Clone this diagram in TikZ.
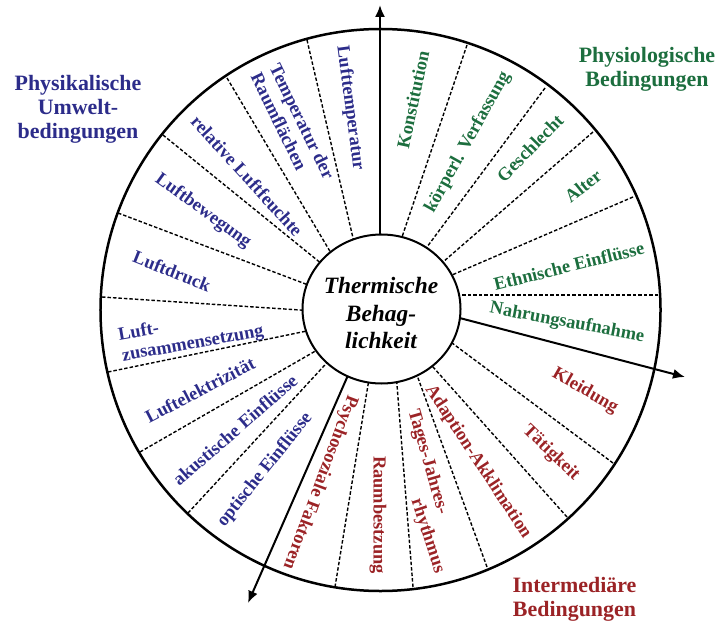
\documentclass[tikz,border=0pt]{standalone}
\usepackage{fontspec}
\setmainfont{Liberation Serif}
\usetikzlibrary{shapes.geometric,arrows.meta,calc}
\definecolor{cblue}{RGB}{44,44,138}
\definecolor{cgreen}{RGB}{28,110,62}
\definecolor{cred}{RGB}{155,35,38}
\tikzset{
  item/.style={font=\fontsize{18.5}{21}\selectfont\bfseries, inner sep=0pt},
  phys/.style={item, text=cblue},
  physio/.style={item, text=cgreen},
  inter/.style={item, text=cred},
  head/.style={font=\fontsize{22}{24}\selectfont\bfseries, align=center, inner sep=0pt},
  sepline/.style={dash pattern=on 3.5bp off 2bp, line width=1.4bp},
  axisline/.style={line width=2bp, -{Latex[length=12bp,width=10bp]}},
}
\begin{document}
\begin{tikzpicture}[x=1bp,y=-1bp]
\useasboundingbox (0,0) rectangle (721,624);
% outer circle
\draw[line width=2.5bp] (380.5,310) ellipse [x radius=280bp, y radius=281bp];
% separators: outer point / inner point
\foreach \ox/\oy/\ix/\iy in {
  307/40/353/238, 227/78/328/248, 163/135/317/260, 118/213/303/283,
  102/297/300/310, 108/372/302/332, 140/452/312/353, 188/513/323/367,
  335/587/368/385, 413/587/397/385, 487/567/418/378, 567/517/433/367,
  613/463/452/343, 467/45/402/237, 545/88/427/247, 593/132/443/262,
  633/197/452/275, 658/295/460/295}{
  \coordinate (so) at (\ox,\oy);
  \coordinate (si) at (\ix,\iy);
  \draw[sepline] (so) -- ($(so)!1.08!(si)$);
}
% axes
\coordinate (u0) at (380,250);
\coordinate (u1) at (380,5);
\coordinate (r0) at (452,316);
\coordinate (r1) at (685,377);
\coordinate (l0) at (349,373);
\coordinate (l1) at (248,603);
\draw[axisline] (u0) -- (u1);
\draw[axisline] (r0) -- (r1);
\draw[axisline] (l0) -- (l1);
% core
\node[ellipse, draw, line width=2bp, fill=white, minimum width=158bp, minimum height=149bp, inner sep=0pt] (core) at (381.5,309) {};
\node[font=\fontsize{23.5}{27.5}\selectfont\bfseries\itshape, align=center, inner sep=0pt] (coretext) at (381,313) {Thermische\\Behag-\\lichkeit};
% headers
\node[head, text=cblue] (hphys) at (78,109) {Physikalische\\Umwelt-\\bedingungen};
\node[head, text=cgreen] (hphysio) at (647,69) {Physiologische\\Bedingungen};
\node[head, text=cred] (hinter) at (574.5,599) {Intermediäre\\Bedingungen};
% physical
\node[phys, rotate=-82.5] (p1) at (350,108) {Lufttemperatur};
\node[phys, rotate=-64, align=left] (p2) at (293,126) {Temperatur der\\Raumflächen};
\node[phys, rotate=-47.7] (p3) at (247,176) {relative Luftfeuchte};
\node[phys, rotate=-36] (p4) at (203,211) {Luftbewegung};
\node[phys, rotate=-21.8] (p5) at (172,271) {Luftdruck};
\node[phys, rotate=10, align=left] (p6) at (191,334) {Luft-\\zusammensetzung};
\node[phys, rotate=27.5] (p7) at (200,390) {Luftelektrizität};
\node[phys, rotate=41] (p8) at (235,430) {akustische Einflüsse};
\node[phys, rotate=51.3] (p9) at (265,470) {optische Einflüsse};
% intermediate
\node[inter, rotate=-110.5] (i1) at (320,482) {Psychosoziale Faktoren};
\node[inter, rotate=-90] (i2) at (378,515) {Raumbestzung};
\node[inter, rotate=-74] (i3) at (427.5,462) {Tages-Jahres-};
\node[inter, rotate=-72] (i4) at (427.5,536) {rhythmus};
\node[inter, rotate=-56.7] (i5) at (478,462) {Adaption-Akklimation};
\node[inter, rotate=-44] (i6) at (551,453) {Tätigkeit};
\node[inter, rotate=-30] (i7) at (585,391) {Kleidung};
% physiological
\node[physio, rotate=-10.6] (g1) at (567,323) {Nahrungsaufnahme};
\node[physio, rotate=13.8] (g2) at (569,266) {Ethnische Einflüsse};
\node[physio, rotate=38.7] (g3) at (583,186) {Alter};
\node[physio, rotate=45.4] (g4) at (530,148) {Geschlecht};
\node[physio, rotate=61] (g5) at (468,142) {körperl. Verfassung};
\node[physio, rotate=78] (g6) at (413,100) {Konstitution};
\end{tikzpicture}
\end{document}
